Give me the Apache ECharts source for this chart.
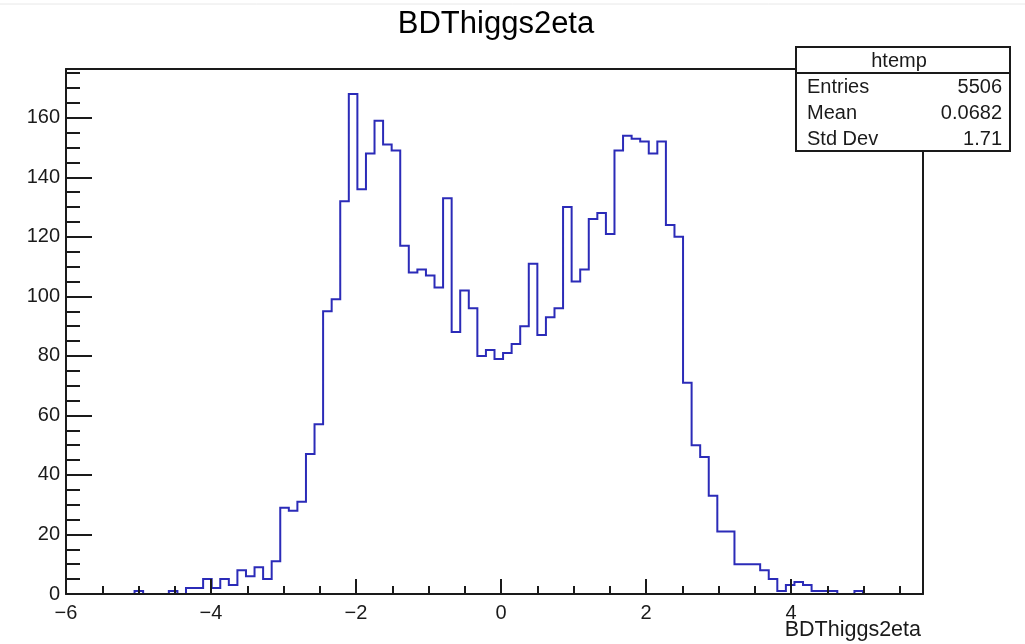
<!DOCTYPE html>
<html>
<head>
<meta charset="utf-8">
<script src="https://cdn.jsdelivr.net/npm/echarts@6/dist/echarts.min.js"></script>
<style>
  html, body { margin: 0; padding: 0; background: #ffffff; }
  #chart { width: 1025px; height: 644px; }
</style>
</head>
<body>
<div id="chart"></div>
<script>
// ---- data ----
const chartTitle = 'BDThiggs2eta';
const xAxisTitle = 'BDThiggs2eta';
const histName = 'htemp';
const xMin = -6;
const xMax = 5.82;
const yMax = 176.4;
const binCounts = [
  0, 0, 0, 0, 0, 0, 0, 0, 1, 0,
  0, 0, 1, 0, 2, 2, 5, 2, 5, 3,
  8, 6, 9, 5, 11, 29, 28, 31, 47, 57,
  95, 99, 132, 168, 136, 148, 159, 151, 149, 117,
  108, 109, 107, 103, 133, 88, 102, 96, 80, 82,
  79, 81, 84, 90, 111, 87, 93, 96, 130, 105,
  109, 126, 128, 121, 149, 154, 153, 152, 148, 152,
  124, 120, 71, 50, 46, 33, 21, 21, 10, 10,
  10, 8, 5, 1, 3, 4, 3, 1, 1, 1,
  0, 0, 1, 0, 0, 0, 0, 0, 0, 0
];
const xMajorTicks = [-6, -4, -2, 0, 2, 4];
const xMinorTicks = [-5.5, -5, -4.5, -4, -3.5, -3, -2.5, -2, -1.5, -1, -0.5, 0, 0.5, 1, 1.5, 2, 2.5, 3, 3.5, 4, 4.5, 5, 5.5];
const yMajorTicks = [0, 20, 40, 60, 80, 100, 120, 140, 160];
const yMinorTicks = [5, 10, 15, 20, 25, 30, 35, 40, 45, 50, 55, 60, 65, 70, 75, 80, 85, 90, 95, 100, 105, 110, 115, 120, 125, 130, 135, 140, 145, 150, 155, 160, 165, 170, 175];
const statsLabels = ['Entries', 'Mean', 'Std Dev'];
const statsValues = ['5506', '0.0682', '1.71'];

// ---- build histogram outline from bin counts ----
const nBins = binCounts.length;
const binW = (xMax - xMin) / nBins;
const outline = [[xMin, 0]];
binCounts.forEach(function (c, k) {
  const lo = xMin + k * binW;
  const hi = Math.min(xMax, xMin + (k + 1) * binW);
  outline.push([lo, c], [hi, c]);
});
outline.push([xMax, 0]);

const FONT = '"Liberation Sans", Arial, Helvetica, sans-serif';
const INK = '#1a1a1a';
const fmtMinus = function (v) { return String(v).replace('-', '\u2212'); };

const chart = echarts.init(document.getElementById('chart'), null, { renderer: 'canvas' });

function tickSet(vals, eps) {
  return function (v) { return vals.some(function (t) { return Math.abs(t - v) < eps; }); };
}
const isXMajor = tickSet(xMajorTicks, 1e-6);
const isYMajor = tickSet(yMajorTicks, 1e-6);

const option = {
  animation: false,
  backgroundColor: '#ffffff',
  grid: { left: 66, right: 102, top: 69, bottom: 50, containLabel: false },
  xAxis: [
    {
      type: 'value', position: 'bottom', min: xMin, max: xMax, interval: 2, z: 10,
      axisLine: { show: true, onZero: false, lineStyle: { color: INK, width: 2 } },
      axisTick: { show: true, inside: true, length: 15, customValues: xMajorTicks, lineStyle: { color: INK, width: 2 } },
      axisLabel: {
        show: true, margin: 9, customValues: xMajorTicks,
        color: INK, fontSize: 20, fontFamily: FONT,
        formatter: function (v) { return isXMajor(v) ? fmtMinus(v) : ''; }
      },
      splitLine: { show: false }
    },
    {
      type: 'value', position: 'bottom', min: xMin, max: xMax, interval: 0.5, z: 10,
      axisLine: { show: false, onZero: false },
      axisTick: { show: true, inside: true, length: 8, customValues: xMinorTicks, lineStyle: { color: INK, width: 2 } },
      axisLabel: { show: false },
      splitLine: { show: false }
    },
    {
      type: 'value', position: 'top', min: xMin, max: xMax, z: 10,
      axisLine: { show: true, onZero: false, lineStyle: { color: INK, width: 2 } },
      axisTick: { show: false }, axisLabel: { show: false }, splitLine: { show: false }
    }
  ],
  yAxis: [
    {
      type: 'value', position: 'left', min: 0, max: yMax, interval: 20, z: 10,
      axisLine: { show: true, onZero: false, lineStyle: { color: INK, width: 2 } },
      axisTick: { show: true, inside: true, length: 26, customValues: yMajorTicks, lineStyle: { color: INK, width: 2 } },
      axisLabel: {
        show: true, margin: 6, customValues: yMajorTicks,
        color: INK, fontSize: 20, fontFamily: FONT,
        formatter: function (v) { return isYMajor(v) ? String(v) : ''; }
      },
      splitLine: { show: false }
    },
    {
      type: 'value', position: 'left', min: 0, max: yMax, interval: 5, z: 10,
      axisLine: { show: false, onZero: false },
      axisTick: { show: true, inside: true, length: 14, customValues: yMinorTicks, lineStyle: { color: INK, width: 2 } },
      axisLabel: { show: false },
      splitLine: { show: false }
    },
    {
      type: 'value', position: 'right', min: 0, max: yMax, z: 10,
      axisLine: { show: true, onZero: false, lineStyle: { color: INK, width: 2 } },
      axisTick: { show: false }, axisLabel: { show: false }, splitLine: { show: false }
    }
  ],
  series: [
    {
      name: histName,
      type: 'line',
      xAxisIndex: 0, yAxisIndex: 0,
      data: outline,
      showSymbol: false,
      symbol: 'none',
      lineStyle: { color: '#2b2bb8', width: 2, join: 'miter', cap: 'butt' },
      z: 2,
      silent: true
    }
  ],
  graphic: [
    { type: 'line', shape: { x1: 0, y1: 4, x2: 1025, y2: 4 }, style: { stroke: '#e8e8e8', lineWidth: 1 }, z: 1 },
    {
      type: 'text', x: 496, y: 24, z: 20,
      style: { text: chartTitle, fill: '#000', font: '31px ' + FONT, textAlign: 'center', textVerticalAlign: 'middle' }
    },
    {
      type: 'text', x: 921, y: 630, z: 20,
      style: { text: xAxisTitle, fill: INK, font: '21.5px ' + FONT, textAlign: 'right', textVerticalAlign: 'middle' }
    },
    {
      type: 'rect', z: 30,
      shape: { x: 796, y: 47, width: 214, height: 104 },
      style: { fill: '#ffffff', stroke: INK, lineWidth: 2 }
    },
    { type: 'line', z: 31, shape: { x1: 796, y1: 73, x2: 1010, y2: 73 }, style: { stroke: INK, lineWidth: 2 } },
    {
      type: 'text', x: 899, y: 61, z: 32,
      style: { text: histName, fill: INK, font: '20px ' + FONT, textAlign: 'center', textVerticalAlign: 'middle' }
    },
    {
      type: 'text', x: 807, y: 87.5, z: 32,
      style: { text: statsLabels[0], fill: INK, font: '20px ' + FONT, textAlign: 'left', textVerticalAlign: 'middle' }
    },
    {
      type: 'text', x: 807, y: 113.5, z: 32,
      style: { text: statsLabels[1], fill: INK, font: '20px ' + FONT, textAlign: 'left', textVerticalAlign: 'middle' }
    },
    {
      type: 'text', x: 807, y: 139, z: 32,
      style: { text: statsLabels[2], fill: INK, font: '20px ' + FONT, textAlign: 'left', textVerticalAlign: 'middle' }
    },
    {
      type: 'text', x: 1002, y: 87.5, z: 32,
      style: { text: statsValues[0], fill: INK, font: '20px ' + FONT, textAlign: 'right', textVerticalAlign: 'middle' }
    },
    {
      type: 'text', x: 1002, y: 113.5, z: 32,
      style: { text: statsValues[1], fill: INK, font: '20px ' + FONT, textAlign: 'right', textVerticalAlign: 'middle' }
    },
    {
      type: 'text', x: 1002, y: 139, z: 32,
      style: { text: statsValues[2], fill: INK, font: '20px ' + FONT, textAlign: 'right', textVerticalAlign: 'middle' }
    }
  ]
};
chart.setOption(option);
</script>
</body>
</html>
